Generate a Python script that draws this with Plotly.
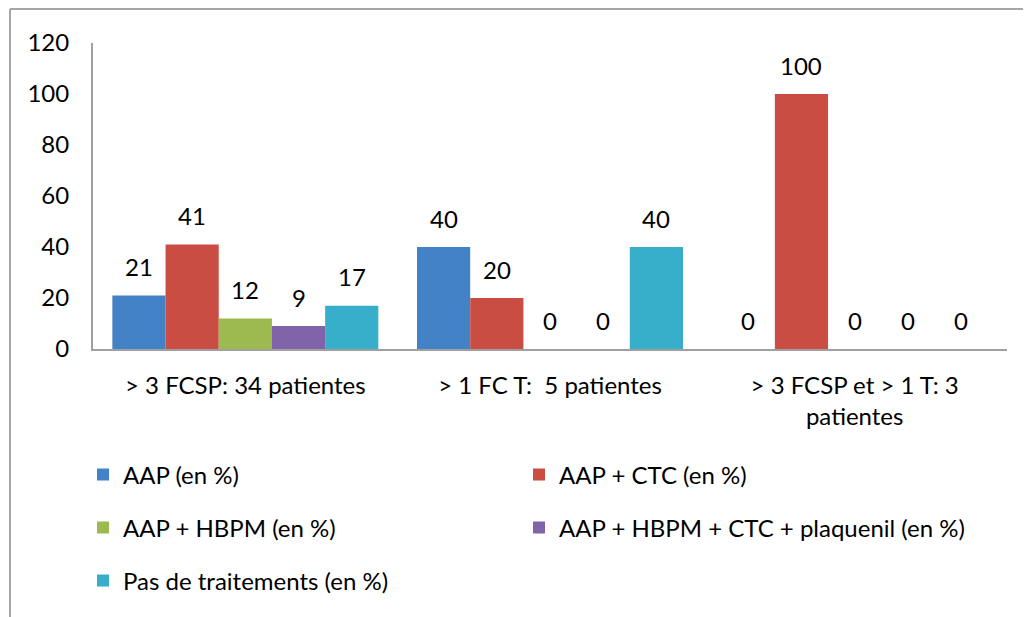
import plotly.graph_objects as go

# Data
categories = ['> 3 FCSP: 34 patientes', '> 1 FC T:  5 patientes', '> 3 FCSP et > 1 T: 3<br>patientes']
series_names = ['AAP (en %)', 'AAP + CTC (en %)', 'AAP + HBPM (en %)',
                'AAP + HBPM + CTC + plaquenil (en %)', 'Pas de traitements (en %)']
aap = [21, 40, 0]
aap_ctc = [41, 20, 100]
aap_hbpm = [12, 0, 0]
aap_hbpm_ctc_plaq = [9, 0, 0]
pas_trt = [17, 40, 0]
y_ticks = [0, 20, 40, 60, 80, 100, 120]

colors = ['#4382c6', '#c94d43', '#9cba50', '#8063a8', '#37afca']

FONT = 'Lato, Calibri, Carlito, sans-serif'
FS = 24
# page is drawn with an 8px body offset, so the figure is a bit smaller
W, H = 1023, 609
ML, MR, MT, MB = 85, 24, 35, 268
PW, PH = W - ML - MR, H - MT - MB
BARGAP = 0.127

fig = go.Figure()
all_vals = [aap, aap_ctc, aap_hbpm, aap_hbpm_ctc_plaq, pas_trt]
legend_ids = ['legend'] + [f'legend{k}' for k in range(2, len(all_vals) + 1)]
for name, vals, col, lg in zip(series_names, all_vals, colors, legend_ids):
    fig.add_trace(go.Bar(x=categories, y=vals, name=name, legend=lg,
                         marker=dict(color=col, line=dict(width=0))))

# Data labels, above each bar
group_px = PW / len(categories)
bar_px = group_px * (1 - BARGAP) / len(all_vals)
for i, vals in enumerate(all_vals):
    dx = (i - (len(all_vals) - 1) / 2) * bar_px
    for cat, v in zip(categories, vals):
        fig.add_annotation(x=cat, y=v, text=str(v), showarrow=False, xshift=dx, yshift=29,
                           yanchor='middle', font=dict(family=FONT, size=FS, color='#000000'))

# Outer chart frame (left + top edge visible)
fx0 = (2 - ML) / PW
fy1 = (H - 1 - MB) / PH
fig.add_shape(type='line', xref='paper', yref='paper', x0=fx0, x1=fx0, y0=-2, y1=fy1,
              line=dict(color='#a6a6a6', width=2))
fig.add_shape(type='line', xref='paper', yref='paper', x0=fx0, x1=2, y0=fy1, y1=fy1,
              line=dict(color='#a6a6a6', width=2))

# Legend laid out as a 2-column grid, one legend box per entry
leg_rows = [475, 475, 528, 528, 581]   # page y of each row
leg_cols = [75, 511, 75, 511, 75]      # figure x of each entry

def leg_box(px, py):
    return dict(orientation='h', xanchor='left', yanchor='middle',
                x=(px - ML) / PW, y=(H - MB - (py - 8)) / PH,
                bgcolor='rgba(0,0,0,0)', font=dict(family=FONT, size=FS, color='#000000'))

legends = {lg: leg_box(px, py) for lg, px, py in zip(legend_ids, leg_cols, leg_rows)}

fig.update_layout(
    width=W, height=H,
    margin=dict(l=ML, r=MR, t=MT, b=MB),
    paper_bgcolor='white', plot_bgcolor='white',
    barmode='group', bargap=BARGAP, bargroupgap=0,
    font=dict(family=FONT, size=FS, color='#000000'),
    showlegend=True,
    **legends,
)
fig.update_xaxes(showline=True, linecolor='#a0a0a0', linewidth=2, showgrid=False,
                 ticks='', ticklabelstandoff=14, tickfont=dict(family=FONT, size=FS))
fig.update_yaxes(range=[0, 120], tickvals=y_ticks, showline=True, linecolor='#a0a0a0', linewidth=2,
                 showgrid=False, zeroline=False, ticks='', ticklabelstandoff=17,
                 tickfont=dict(family=FONT, size=FS))

fig.write_html('out.html')
